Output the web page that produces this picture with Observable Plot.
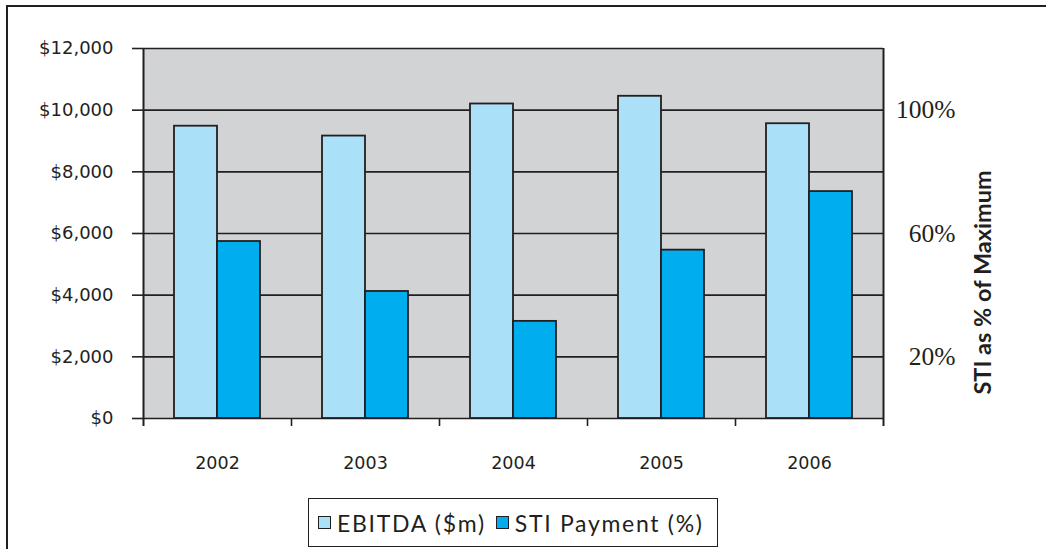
<!DOCTYPE html>
<html>
<head>
<meta charset="utf-8">
<script src="https://cdn.jsdelivr.net/npm/d3@7"></script>
<script src="https://cdn.jsdelivr.net/npm/@observablehq/plot@0.6"></script>
<style>
  html, body { margin: 0; padding: 0; background: #fff; }
  #wrap { position: relative; width: 1046px; height: 549px; overflow: hidden; background: #fff; }
  #chart { position: absolute; left: 0; top: 0; z-index: 1; }
  #border { position: absolute; left: 6px; top: 5px; width: 1100px; height: 600px; z-index: 2;
            border-top: 2.5px solid #231f20; border-left: 2.5px solid #231f20; pointer-events: none; }
  #legend { position: absolute; left: 308px; top: 498px; width: 408px; height: 47px; z-index: 3;
            border: 1.5px solid #231f20; display: flex; align-items: center; background: #fff;
            font-family: Lato, "Open Sans", sans-serif; font-size: 23px; letter-spacing: 1.7px;
            color: #231f20; box-sizing: content-box; white-space: nowrap; }
  .item { display: flex; align-items: center; }
  .item:first-child { margin-left: 9px; }
  .item + .item { margin-left: 10px; }
  .sw { width: 11px; height: 11px; border: 1.5px solid #231f20; margin-right: 6px; }
</style>
</head>
<body>
<div id="wrap">
  <div id="chart"></div>
  <div id="border"></div>
  <div id="legend"></div>
</div>
<script>
// ---- data ----
const years = ["2002", "2003", "2004", "2005", "2006"];
const ebitda = [9480, 9160, 10200, 10450, 9560];        // $m
const stiPayment = [57.4, 41.2, 31.5, 54.6, 73.6];      // % of maximum
const leftTicks = [0, 2000, 4000, 6000, 8000, 10000, 12000];
const rightTicks = [20, 60, 100];                       // %
const seriesNames = ["EBITDA ($m)", "STI Payment (%)"];
const seriesColors = ["#abe0f9", "#00aeef"];
const axisTitle = "STI as % of Maximum";

// ---- layout ----
const W = 1046, H = 480, ML = 143, MR = 163, MT = 48, MB = 62;
const plotW = W - ML - MR, plotH = H - MT - MB;
const step = plotW / years.length;
const padInner = 62 / 148, padOuter = padInner / 2;
const bandW = step * (1 - padInner);
const ink = "#231f20";

const data = years.map((y, i) => ({year: y, ebitda: ebitda[i], sti: stiPayment[i]}));

const chart = Plot.plot({
  width: W, height: H,
  marginLeft: ML, marginRight: MR, marginTop: MT, marginBottom: MB,
  style: {fontFamily: "'DejaVu Sans', sans-serif", color: ink, background: "transparent", overflow: "visible"},
  x: {domain: years, type: "band", paddingInner: padInner, paddingOuter: padOuter, label: null},
  y: {domain: [0, 12000], label: null},
  marks: [
    Plot.frame({fill: "#d1d3d4"}),
    Plot.ruleY(leftTicks, {stroke: ink, strokeWidth: 1.6}),
    Plot.barY(data, {x: "year", y: "ebitda", fill: seriesColors[0], stroke: ink, strokeWidth: 1.8, insetRight: bandW / 2}),
    Plot.barY(data, {x: "year", y: d => d.sti * 100, fill: seriesColors[1], stroke: ink, strokeWidth: 1.8, insetLeft: bandW / 2}),
    Plot.ruleX(years.slice(0, 1), {dx: -step / 2, insetBottom: -8, stroke: ink, strokeWidth: 2}),
    Plot.ruleX(years.slice(-1), {dx: step / 2, insetBottom: -8, stroke: ink, strokeWidth: 2}),
    Plot.ruleX(years.slice(0, -1), {dx: step / 2, insetTop: plotH, insetBottom: -8, stroke: ink, strokeWidth: 1.6}),
    Plot.axisY({ticks: leftTicks, tickSize: 11, tickPadding: 19, strokeWidth: 1.6,
                tickFormat: d => "$" + d3.format(",")(d), fontSize: 18}),
    Plot.axisX({tickSize: 0, tickPadding: 38, fontSize: 17.5}),
    Plot.text(rightTicks, {y: d => d * 100, text: d => d + "%", frameAnchor: "right", textAnchor: "end",
                dx: 72, fontSize: 25.5, fontFamily: "'Liberation Serif', serif", fill: ink}),
    Plot.text([axisTitle], {frameAnchor: "right", textAnchor: "middle", rotate: -90, dx: 100, dy: 49,
                fontSize: 23.5, fontWeight: "bold", fontFamily: "Lato, sans-serif", fill: ink})
  ]
});
document.getElementById("chart").appendChild(chart);

const legend = document.getElementById("legend");
seriesNames.forEach((name, i) => {
  const it = document.createElement("div");
  it.className = "item";
  const sw = document.createElement("div");
  sw.className = "sw";
  sw.style.background = seriesColors[i];
  const t = document.createElement("span");
  t.textContent = name;
  it.appendChild(sw); it.appendChild(t);
  legend.appendChild(it);
});
</script>
</body>
</html>
